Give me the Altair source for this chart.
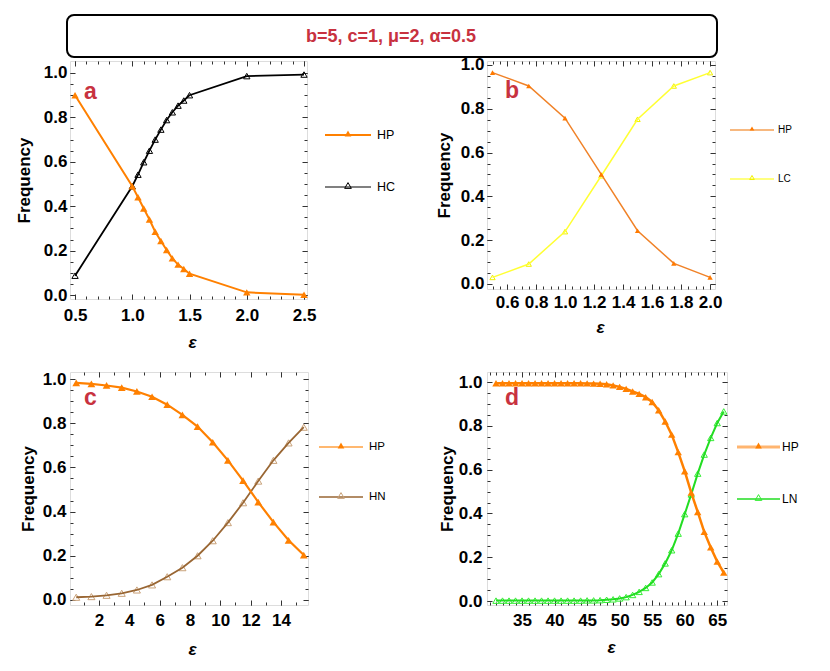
import altair as alt
import pandas as pd
import numpy as np

FONT = "Liberation Sans"
RED = "#C8323F"
ORANGE = "#FF8000"
TICK = "#333333"

# ---------------- data ----------------
eps_a = [0.5, 1.0, 1.05, 1.1, 1.15, 1.2, 1.25, 1.3, 1.35, 1.4, 1.45, 1.5, 2.0, 2.5]
hp_a = [0.90, 0.49, 0.44, 0.39, 0.34, 0.285, 0.243, 0.203, 0.165, 0.137, 0.117, 0.096, 0.012, 0.001]
hc_a = [0.087, 0.49, 0.542, 0.598, 0.65, 0.70, 0.745, 0.788, 0.823, 0.853, 0.876, 0.90, 0.986, 0.993]

eps_b = [0.5, 0.75, 1.0, 1.25, 1.5, 1.75, 2.0]
hp_b = [0.965, 0.904, 0.757, 0.50, 0.243, 0.094, 0.03]
lc_b = [0.03, 0.091, 0.239, 0.494, 0.752, 0.904, 0.965]

eps_c = [0.5, 1.5, 2.5, 3.5, 4.5, 5.5, 6.5, 7.5, 8.5, 9.5, 10.5, 11.5, 12.5, 13.5, 14.5, 15.5]
hp_c = [0.983, 0.978, 0.971, 0.961, 0.944, 0.92, 0.884, 0.838, 0.785, 0.714, 0.632, 0.54, 0.443, 0.352, 0.27, 0.203]
hn_c = [0.012, 0.015, 0.021, 0.03, 0.045, 0.068, 0.105, 0.146, 0.2, 0.268, 0.35, 0.44, 0.538, 0.632, 0.711, 0.782]

eps_d = [31, 32, 33, 34, 35, 36, 37, 38, 39, 40, 41, 42, 43, 44, 45, 46, 47, 48,
         49, 50, 51, 52, 53, 54, 55, 56, 57, 58, 59, 60, 61, 62, 63, 64, 65, 66]
hp_d = [0.995, 0.995, 0.995, 0.995, 0.995, 0.995, 0.995, 0.995, 0.995, 0.995, 0.995, 0.995,
        0.995, 0.995, 0.994, 0.993, 0.992, 0.99, 0.985, 0.978, 0.969, 0.957, 0.946, 0.931,
        0.909, 0.871, 0.82, 0.76, 0.68, 0.593, 0.495, 0.407, 0.316, 0.245, 0.18, 0.13]
ln_d = [0.002, 0.002, 0.002, 0.002, 0.002, 0.002, 0.002, 0.002, 0.002, 0.002, 0.002, 0.002,
        0.002, 0.002, 0.003, 0.003, 0.004, 0.006, 0.008, 0.012, 0.018, 0.028, 0.042, 0.06,
        0.085, 0.123, 0.172, 0.232, 0.308, 0.397, 0.487, 0.582, 0.669, 0.745, 0.813, 0.866]

title_text = "b=5, c=1, \u03bc=2, \u03b1=0.5"

dummy = pd.DataFrame({"k": [0]})


def ticks(start, stop, step):
    n = int(round((stop - start) / step))
    return [float(round(start + i * step, 6)) for i in range(n + 1)]


Y_MAJ = ticks(0.0, 1.0, 0.2)
Y_MIN = ticks(0.0, 1.0, 0.05)

LAB = dict(labelFont=FONT, labelFontSize=17, labelFontWeight="bold", labelColor="black",
           labelFlush=False, labelOverlap=False)
TIT = dict(titleFont=FONT, titleFontSize=17, titleFontWeight="bold", titleColor="black",
           titleBaseline="alphabetic", titleAlign="center")

MAJ, MIN = 5, 3


def axis(orient, vals, size, **kw):
    return alt.Axis(orient=orient, values=vals, tickSize=size, offset=-size, ticks=True,
                    domain=False, grid=False, tickColor=TICK, tickWidth=1,
                    tickOpacity=1, **kw)


def legend_item(label, y, x0, x1, xt, lc, lw, mc, filled, ms, fs):
    return [
        alt.Chart(dummy).mark_rule(color=lc, strokeWidth=lw).encode(
            x=alt.value(x0), x2=alt.value(x1), y=alt.value(y)),
        alt.Chart(dummy).mark_point(shape="triangle-up", filled=filled, color=mc, size=ms,
                                    opacity=1, strokeWidth=1).encode(
            x=alt.value((x0 + x1) / 2), y=alt.value(y - 1.5)),
        alt.Chart(dummy).mark_text(text=label, align="left", baseline="middle", font=FONT,
                                   fontSize=fs, color="black").encode(
            x=alt.value(xt), y=alt.value(y)),
    ]


def panel(eps, s1, s2, p):
    df = pd.DataFrame({"eps": eps, "s1": s1, "s2": s2})
    xs = alt.Scale(domain=p["xdom"], nice=False, zero=False)
    ys = alt.Scale(domain=p["ydom"], nice=False, zero=False)
    W, H = p["w"], p["h"]
    ax_b = axis("bottom", p["xmaj"], MAJ, title="\u03b5", format=p["xfmt"],
                labelBaseline="alphabetic", labelPadding=p["xpad"],
                titleFontStyle="italic", titleX=p["tx"], titleY=p["ty"] - 6 + MAJ,
                titleAngle=0, **LAB, **TIT)
    ax_bm = axis("bottom", p["xmin"], MIN, labels=False, title=None)
    ax_t = axis("top", p["xmaj"], MAJ, labels=False, title=None)
    ax_tm = axis("top", p["xmin"], MIN, labels=False, title=None)
    ax_l = axis("left", Y_MAJ, MAJ, title="Frequency", format=".1f", labelPadding=p["ypad"],
                titleX=p["fx"] + 6 - MAJ, titleY=H / 2, titleAngle=270, **LAB, **TIT)
    ax_lm = axis("left", Y_MIN, MIN, labels=False, title=None)
    ax_r = axis("right", Y_MAJ, MAJ, labels=False, title=None)
    ax_rm = axis("right", Y_MIN, MIN, labels=False, title=None)

    base = alt.Chart(df)
    m2 = base.mark_point(shape="triangle-up", filled=False, color=p["m2c"], size=p["m2s"],
                         strokeWidth=1, opacity=1).encode(
        x=alt.X("eps:Q", scale=xs, axis=ax_tm), y=alt.Y("s2:Q", scale=ys, axis=ax_rm))
    l2 = base.mark_line(color=p["l2c"], strokeWidth=p["l2w"]).encode(
        x=alt.X("eps:Q", scale=xs, axis=ax_t), y=alt.Y("s2:Q", scale=ys, axis=ax_r))
    l1 = base.mark_line(color=p["l1c"], strokeWidth=p["l1w"]).encode(
        x=alt.X("eps:Q", scale=xs, axis=ax_b), y=alt.Y("s1:Q", scale=ys, axis=ax_l))
    m1 = base.mark_point(shape="triangle-up", filled=True, color=p["m1c"], size=p["m1s"],
                         opacity=1).encode(
        x=alt.X("eps:Q", scale=xs, axis=ax_bm), y=alt.Y("s1:Q", scale=ys, axis=ax_lm))
    layers = [m2, l2, l1, m1]

    lg = p["leg"]
    layers += legend_item("HP", lg["y1"], lg["x0"], lg["x1"], lg["xt"], lg["lc1"], lg["lw1"],
                          p["m1c"], True, lg["ms"], lg["fs"])
    layers += legend_item(p["name2"], lg["y2"], lg["x0"], lg["x1"], lg["xt"], lg["lc2"], lg["lw2"],
                          p["m2c"], False, lg["ms"], lg["fs"])
    layers.append(alt.Chart(dummy).mark_text(text=p["tag"], align="left", baseline="alphabetic",
                                             font=FONT, fontSize=23, fontWeight="bold",
                                             color=RED).encode(
        x=alt.value(p["tagx"]), y=alt.value(p["tagy"])))
    if p.get("box"):
        layers.append(alt.Chart(dummy).mark_rect(cornerRadius=7, fill="white", stroke="black",
                                                 strokeWidth=2).encode(
            x=alt.value(-3), x2=alt.value(647), y=alt.value(-46), y2=alt.value(-4)))
        layers.append(alt.Chart(dummy).mark_text(text=title_text, align="center",
                                                 baseline="alphabetic", font=FONT, fontSize=18,
                                                 fontWeight="bold", color=RED).encode(
            x=alt.value(321), y=alt.value(-19)))
    return alt.layer(*layers).resolve_axis(x="independent", y="independent").properties(
        width=W, height=H)


pa = dict(w=237, h=238, xdom=[0.456, 2.526], ydom=[-0.018, 1.054],
          xmaj=ticks(0.5, 2.5, 0.5), xmin=ticks(0.5, 2.5, 0.1), xfmt=".1f",
          xpad=21, ypad=3, tx=122, ty=54, fx=-47,
          l1c=ORANGE, l1w=2, m1c=ORANGE, m1s=55, l2c="black", l2w=1.8, m2c="black", m2s=40,
          name2="HC", tag="a", tagx=14, tagy=38, box=True,
          leg=dict(y1=74, y2=126, x0=255, x1=301, xt=307, lc1=ORANGE, lw1=2, lc2="#808080",
                   lw2=2, ms=45, fs=12.5))
pb = dict(w=228, h=228, xdom=[0.462, 2.034], ydom=[-0.023, 1.018],
          xmaj=ticks(0.6, 2.0, 0.2), xmin=ticks(0.5, 2.0, 0.05), xfmt=".1f",
          xpad=18, ypad=3, tx=113, ty=49, fx=-44,
          l1c="#F08228", l1w=1.5, m1c="#FF7A00", m1s=28, l2c="#FFFF33", l2w=1.5, m2c="#F2F200",
          m2s=28, name2="LC", tag="b", tagx=18, tagy=37,
          leg=dict(y1=69, y2=118, x0=243, x1=287, xt=291, lc1="#F5A055", lw1=1.3,
                   lc2="#FFFF55", lw2=1.3, ms=22, fs=10))
pc = dict(w=238, h=233, xdom=[0.09, 15.78], ydom=[-0.023, 1.032],
          xmaj=ticks(2, 14, 2), xmin=ticks(1, 15, 1), xfmt="d",
          xpad=20, ypad=4, tx=122, ty=55, fx=-43,
          l1c=ORANGE, l1w=2.2, m1c=ORANGE, m1s=60, l2c="#996633", l2w=1.8, m2c="#C9A27A",
          m2s=50, name2="HN", tag="c", tagx=14, tagy=33,
          leg=dict(y1=75, y2=125, x0=249, x1=293, xt=299, lc1="#FFB870", lw1=2, lc2="#996633",
                   lw2=1.5, ms=45, fs=11.5))
pd_ = dict(w=240, h=233, xdom=[29.615, 66.5], ydom=[-0.018, 1.046],
           xmaj=ticks(35, 65, 5), xmin=ticks(30, 66, 1), xfmt="d",
           xpad=20, ypad=5, tx=124, ty=53, fx=-41,
           l1c=ORANGE, l1w=2.5, m1c=ORANGE, m1s=55, l2c="#22DD22", l2w=2, m2c="#33EE33",
           m2s=40, name2="LN", tag="d", tagx=18, tagy=33,
           leg=dict(y1=75, y2=127, x0=250, x1=293, xt=295, lc1="#FFB570", lw1=3,
                    lc2="#22DD22", lw2=1.5, ms=45, fs=12))

chart = alt.concat(
    panel(eps_a, hp_a, hc_a, pa),
    panel(eps_b, hp_b, lc_b, pb),
    panel(eps_c, hp_c, hn_c, pc),
    panel(eps_d, hp_d, ln_d, pd_),
    columns=2, bounds="flush", spacing={"row": 73, "column": 179},
).properties(
    padding={"left": 6, "top": 5, "right": 5, "bottom": 5}
).configure_view(stroke="#808080", strokeWidth=1.6).configure(background="white")

chart.save("out.html", embed_options={"renderer": "svg", "actions": False})
